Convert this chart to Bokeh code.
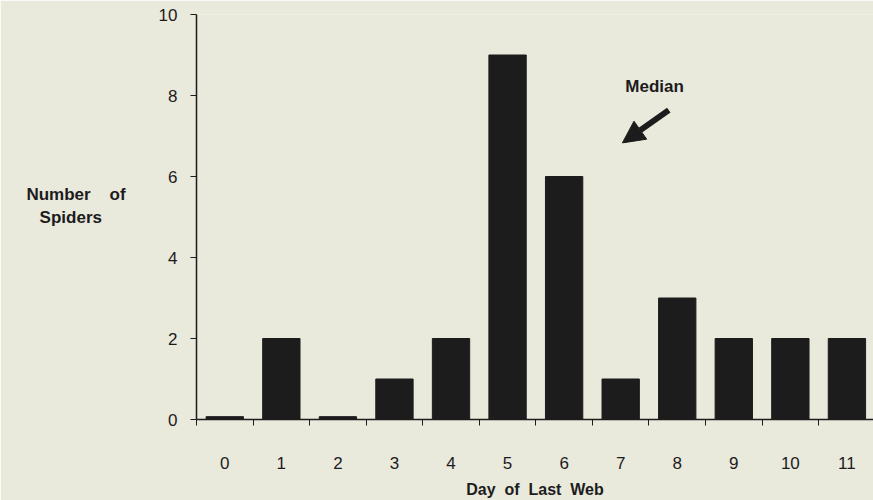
from bokeh.plotting import figure
from bokeh.models import FixedTicker, Label, Arrow, NormalHead, Range1d
from bokeh.embed import file_html
from bokeh.resources import INLINE

days = list(range(12))
day_labels = ["0", "1", "2", "3", "4", "5", "6", "7", "8", "9", "10", "11"]
spiders = [0, 2, 0, 1, 2, 9, 6, 1, 3, 2, 2, 2]
y_ticks = [0, 2, 4, 6, 8, 10]

BG = "#e9e9dc"
INK = "#1c1c1c"
FONT = "Liberation Sans"

p = figure(width=873, height=500, output_backend="svg", toolbar_location=None,
           x_range=Range1d(-0.5, 11.47), y_range=Range1d(0, 10),
           min_border_left=196, min_border_right=0, min_border_top=14,
           min_border_bottom=79)
p.background_fill_color = BG
p.border_fill_color = BG
p.outline_line_color = None
p.grid.visible = False

# zero-count days drawn as a thin sliver like the original
tops = [v if v > 0 else 0.07 for v in spiders]
p.vbar(x=days, top=tops, bottom=0, width=0.66, fill_color=INK, line_color=INK)

xa = p.xaxis[0]
xa.ticker = FixedTicker(ticks=days, minor_ticks=[d - 0.5 for d in days])
xa.major_label_overrides = {d: s for d, s in zip(days, day_labels)}
xa.major_tick_out = 0
xa.major_tick_in = 0
xa.minor_tick_out = 6
xa.minor_tick_in = 0
xa.minor_tick_line_color = INK
xa.axis_line_color = INK
xa.axis_line_width = 1.5
xa.major_label_standoff = 31
xa.major_label_text_font = FONT
xa.major_label_text_font_size = "17px"
xa.major_label_text_color = INK
xa.axis_label = "Day\u00a0 of\u00a0 Last\u00a0 Web"
xa.axis_label_text_font = FONT
xa.axis_label_text_font_style = "bold"
xa.axis_label_text_font_size = "16px"
xa.axis_label_text_color = INK
xa.axis_label_standoff = 9

ya = p.yaxis[0]
ya.ticker = FixedTicker(ticks=y_ticks)
ya.major_tick_out = 6
ya.major_tick_in = 0
ya.minor_tick_out = 0
ya.minor_tick_in = 0
ya.axis_line_color = INK
ya.axis_line_width = 1.5
ya.major_tick_line_color = INK
ya.major_label_standoff = 13
ya.major_label_text_font = FONT
ya.major_label_text_font_size = "17px"
ya.major_label_text_color = INK
ya.axis_label = "Number\u00a0\u00a0\u00a0 of\nSpiders\u00a0\u00a0\u00a0\u00a0\u00a0\n\u00a0"
ya.axis_label_orientation = "horizontal"
ya.axis_label_standoff = 30
ya.axis_label_text_font = FONT
ya.axis_label_text_font_style = "bold"
ya.axis_label_text_font_size = "17px"
ya.axis_label_text_color = INK
ya.axis_label_text_align = "center"
ya.axis_label_text_line_height = 1.2

p.add_layout(Label(x=7.6, y=8.23, text="Median", text_align="center",
                   text_baseline="middle", text_font=FONT, text_font_style="bold",
                   text_font_size="17px", text_color=INK))

p.add_layout(Arrow(x_start=7.85, y_start=7.64, x_end=7.03, y_end=6.83,
                   line_color=INK, line_width=6,
                   end=NormalHead(size=22, fill_color=INK, line_color=INK)))

open("out.html", "w").write(file_html(p, INLINE))
